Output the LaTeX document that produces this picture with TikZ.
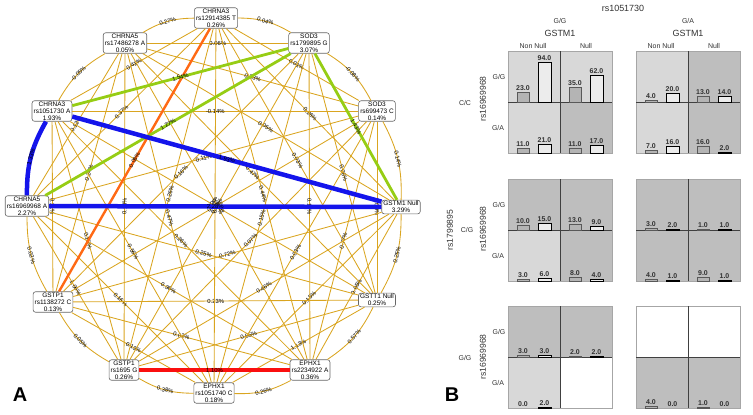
\documentclass[tikz,border=0pt]{standalone}
\usepackage{fontspec}
\setmainfont{Liberation Sans}
\definecolor{gold}{RGB}{218,165,32}
\definecolor{ebl}{RGB}{20,20,235}
\definecolor{egr}{RGB}{150,205,20}
\definecolor{eor}{RGB}{255,105,20}
\definecolor{erd}{RGB}{250,15,15}
\definecolor{txt}{RGB}{50,50,50}
\definecolor{lgr}{RGB}{216,216,216}
\definecolor{mgr}{RGB}{190,190,190}
\definecolor{bgr}{RGB}{180,180,180}
\definecolor{bwh}{RGB}{236,236,236}
\tikzset{
  gn/.style={draw=gray!80!black, fill=white, rounded corners=2.5bp, line width=0.6bp, align=center,
     font=\fontsize{6.5}{7}\selectfont, inner xsep=1.6bp, inner ysep=1bp},
  e/.style={draw=gold, line width=0.85bp},
  lab/.style={sloped, midway, font=\fontsize{5.9}{5.9}\selectfont, inner sep=0.3bp},
  thb/.style={draw=ebl, line width=4.5bp},
  thg/.style={draw=egr, line width=2.8bp},
  tho/.style={draw=eor, line width=2.4bp},
  thr/.style={draw=erd, line width=4.5bp},
  pframe/.style={draw=gray!70, line width=0.8bp},
  pdiv/.style={draw=black!75, line width=0.6bp},
  bara/.style={fill=bgr, draw=black!65, line width=0.7bp},
  barb/.style={fill=bwh, draw=black, line width=1bp},
  vl/.style={anchor=south, inner sep=1.6bp, font=\fontsize{7}{7}\selectfont\bfseries, text=txt},
  bt/.style={font=\fontsize{7}{7}\selectfont, text=txt, inner sep=0bp},
  brt/.style={font=\fontsize{8.6}{8.6}\selectfont, text=txt, inner sep=0bp, rotate=90},
  bth/.style={font=\fontsize{9}{9}\selectfont, text=txt, inner sep=0bp}
}
\newcommand\StE[4][e]{\draw[#1] (n#2) -- node[lab]{#4} (n#3);}
\newcommand\ArcE[4][e]{\draw[#1] (n#2) to[bend left=15] node[lab]{#4} (n#3);}
\newcommand\PanelQ[6]{%
  \fill[#3] (#1,#2) rectangle ++(52,51);
  \fill[#4] ({#1+52},#2) rectangle ++(52,51);
  \fill[#5] (#1,{#2+51}) rectangle ++(52,51);
  \fill[#6] ({#1+52},{#2+51}) rectangle ++(52,51);
  \draw[pframe] (#1,#2) rectangle ++(104,102);
  \draw[pdiv] ({#1+52},#2) -- ++(0,102);
  \draw[pdiv] (#1,{#2+51}) -- ++(104,0);
}
\newcommand\BarPair[4]{%
  \pgfmathsetmacro\ha{#3*0.425}%
  \pgfmathsetmacro\hb{#4*0.425}%
  \pgfmathparse{#3>0}\ifnum\pgfmathresult=1 \draw[bara] ({#1+9},#2) rectangle ({#1+21},{#2-\ha});\fi
  \node[vl] at ({#1+15},{#2-\ha}) {#3};
  \pgfmathparse{#4>0}\ifnum\pgfmathresult=1 \draw[barb] ({#1+30},#2) rectangle ({#1+43},{#2-\hb});\fi
  \node[vl] at ({#1+36.5},{#2-\hb}) {#4};
}
\begin{document}
\begin{tikzpicture}[x=1bp,y=-1bp]
\useasboundingbox (0,0) rectangle (753,414);
% ---------- panel A nodes ----------
\node[gn] (n0) at (216,18) {CHRNA3\\rs12914385 T\\0.26\%};
\node[gn] (n1) at (309,43) {SOD3\\rs1799895 G\\3.07\%};
\node[gn] (n2) at (377,111) {SOD3\\rs699473 C\\0.14\%};
\node[gn] (n3) at (401,207) {GSTM1 Null\\3.29\%};
\node[gn] (n4) at (377,300) {GSTT1 Null\\0.25\%};
\node[gn] (n5) at (310,370) {EPHX1\\rs2234922 A\\0.36\%};
\node[gn] (n6) at (214,393) {EPHX1\\rs1051740 C\\0.18\%};
\node[gn] (n7) at (124,370) {GSTP1\\rs1695 G\\0.26\%};
\node[gn] (n8) at (53,302) {GSTP1\\rs1138272 C\\0.13\%};
\node[gn] (n9) at (27,206) {CHRNA5\\rs16969968 A\\2.27\%};
\node[gn] (n10) at (52,111) {CHRNA3\\rs1051730 A\\1.93\%};
\node[gn] (n11) at (125,43) {CHRNA5\\rs17486278 A\\0.05\%};
% ---------- golden edges ----------
\ArcE{0}{1}{0.04\%}
\ArcE{1}{2}{-0.08\%}
\ArcE{2}{3}{0.14\%}
\ArcE{3}{4}{0.25\%}
\ArcE{4}{5}{0.57\%}
\ArcE{5}{6}{0.26\%}
\ArcE{6}{7}{0.38\%}
\ArcE{7}{8}{0.05\%}
\ArcE{8}{9}{0.02\%}
\ArcE{10}{11}{-0.05\%}
\ArcE{11}{0}{0.27\%}
\StE{0}{2}{0.01\%}
\StE{2}{4}{0.09\%}
\StE{3}{5}{0.05\%}
\StE{4}{6}{1.13\%}
\StE{6}{8}{0.13\%}
\StE{7}{9}{1.06\%}
\StE{8}{10}{0.21\%}
\StE{9}{11}{0.12\%}
\StE{10}{0}{0.41\%}
\StE{11}{1}{0.06\%}
\StE{0}{3}{0.26\%}
\StE{1}{4}{0.06\%}
\StE{2}{5}{0.77\%}
\StE{3}{6}{0.15\%}
\StE{4}{7}{0.55\%}
\StE{5}{8}{0.02\%}
\StE{6}{9}{0.16\%}
\StE{7}{10}{0.15\%}
\StE{8}{11}{0.24\%}
\StE{9}{0}{0.37\%}
\StE{11}{2}{0.33\%}
\StE{0}{4}{0.03\%}
\StE{1}{5}{0.11\%}
\StE{2}{6}{0.03\%}
\StE{3}{7}{0.46\%}
\StE{4}{8}{0.23\%}
\StE{5}{9}{0.36\%}
\StE{6}{10}{0.56\%}
\StE{7}{11}{0.13\%}
\StE{10}{2}{-0.14\%}
\StE{11}{3}{0.05\%}
\StE{0}{5}{0.44\%}
\StE{1}{6}{0.15\%}
\StE{2}{7}{0.07\%}
\StE{3}{8}{0.72\%}
\StE{4}{9}{0.25\%}
\StE{5}{10}{0.26\%}
\StE{6}{11}{0.47\%}
\StE{7}{0}{0.26\%}
\StE{8}{1}{0.16\%}
\StE{9}{2}{0.11\%}
\StE{11}{4}{0.47\%}
\StE{0}{6}{0.12\%}
\StE{1}{7}{0.08\%}
\StE{2}{8}{0.07\%}
\StE{4}{10}{0.17\%}
\StE{5}{11}{0.09\%}
% ---------- highlighted edges ----------
\StE[tho]{8}{0}{0.08\%}
\StE[thg]{1}{3}{1.43\%}
\StE[thg]{10}{1}{1.54\%}
\StE[thg]{9}{1}{1.27\%}
\StE[thb]{10}{3}{1.93\%}
\StE[thb]{9}{3}{2.28\%}
\ArcE[thb]{9}{10}{1.33\%}
\StE[thr]{7}{5}{1.10\%}
\node[font=\fontsize{20}{20}\selectfont\bfseries] (la) at (20,395) {A};
% ---------- panel B ----------
\node[font=\fontsize{20}{20}\selectfont\bfseries] (lb) at (452,395) {B};
\node[bth] (t0) at (623,8) {rs1051730};
\node[bt] (t1) at (560,21) {G/G};
\node[bth] (t2) at (560,33) {GSTM1};
\node[bt] (t3) at (688,21) {G/A};
\node[bth] (t4) at (688,33) {GSTM1};
\node[bt] (t5) at (533,46) {Non Null};
\node[bt] (t6) at (586,46) {Null};
\node[bt] (t7) at (661,46) {Non Null};
\node[bt] (t8) at (714,46) {Null};
% row labels
\node[bt] (r1) at (465,103) {C/C};
\node[brt] (r2) at (483,99) {rs16969968};
\node[bt] (r3) at (499,77) {G/G};
\node[bt] (r4) at (498,128) {G/A};
\node[brt] (r5) at (450,230) {rs1799895};
\node[bt] (r6) at (467,230) {C/G};
\node[brt] (r7) at (483,229) {rs16969968};
\node[bt] (r8) at (499,205) {G/G};
\node[bt] (r9) at (498,256) {G/A};
\node[bt] (r10) at (465,358) {G/G};
\node[brt] (r11) at (483,357) {rs16969968};
\node[bt] (r12) at (499,332) {G/G};
\node[bt] (r13) at (498,383) {G/A};
% panels
\PanelQ{508}{51}{lgr}{lgr}{lgr}{mgr}
\BarPair{508}{102}{23.0}{94.0}
\BarPair{560}{102}{35.0}{62.0}
\BarPair{508}{153}{11.0}{21.0}
\BarPair{560}{153}{11.0}{17.0}
\PanelQ{636}{51}{lgr}{mgr}{lgr}{mgr}
\BarPair{636}{102}{4.0}{20.0}
\BarPair{688}{102}{13.0}{14.0}
\BarPair{636}{153}{7.0}{16.0}
\BarPair{688}{153}{16.0}{2.0}
\PanelQ{508}{179}{mgr}{mgr}{lgr}{mgr}
\BarPair{508}{230}{10.0}{15.0}
\BarPair{560}{230}{13.0}{9.0}
\BarPair{508}{281}{3.0}{6.0}
\BarPair{560}{281}{8.0}{4.0}
\PanelQ{636}{179}{mgr}{mgr}{mgr}{mgr}
\BarPair{636}{230}{3.0}{2.0}
\BarPair{688}{230}{1.0}{1.0}
\BarPair{636}{281}{4.0}{1.0}
\BarPair{688}{281}{9.0}{1.0}
\PanelQ{508}{306}{mgr}{mgr}{lgr}{white}
\BarPair{508}{357}{3.0}{3.0}
\BarPair{560}{357}{2.0}{2.0}
\BarPair{508}{408}{0.0}{2.0}
\PanelQ{636}{306}{white}{white}{mgr}{mgr}
\BarPair{636}{408}{4.0}{0.0}
\BarPair{688}{408}{1.0}{0.0}
\end{tikzpicture}
\end{document}
